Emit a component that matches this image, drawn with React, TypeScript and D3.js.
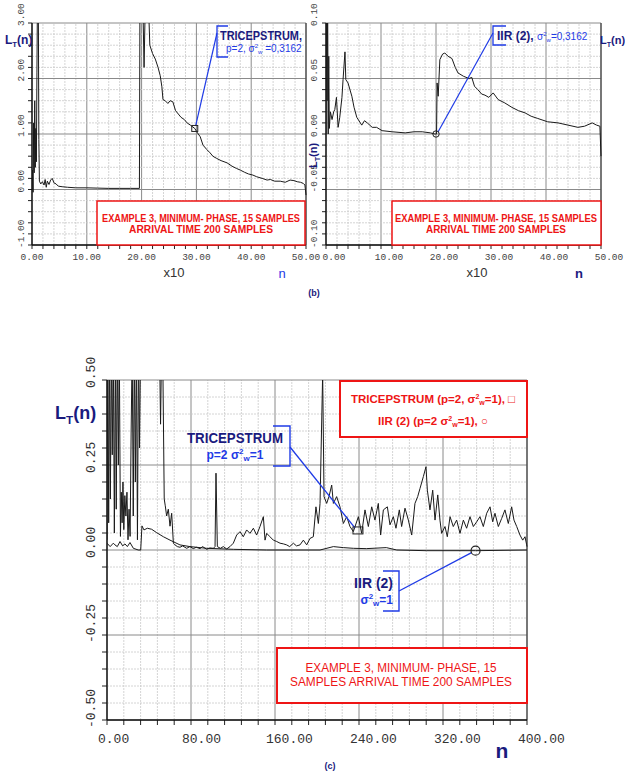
import React from 'react';
import * as d3 from 'd3';

// ---------------- DATA ----------------
// (b) left: TRICEPSTRUM, x in units of x10 samples
const tricepB: [number, number][] = [
  [0, 0], [0.1, 0.35], [0.2, -0.05], [0.3, 1.2], [0.4, 0.3], [0.5, 1.6], [0.6, 0.4], [0.7, 1.1], [0.8, 0.5], [0.9, 2.1],
  [1.0, 3.5], [1.15, 3.5], [1.25, 0.9], [1.35, 0.15], [1.6, 0.1], [1.9, 0.14], [2.2, 0.08], [2.4, 0.18], [2.6, 0.04],
  [2.8, 0.15], [3.1, 0.09], [3.4, 0.17], [3.7, 0.2], [4.0, 0.12], [4.4, 0.1], [4.8, 0.06], [5.5, 0.05], [6.5, 0.04],
  [8, 0.03], [10, 0.03], [12, 0.025], [14, 0.02], [16, 0.02], [18, 0.02], [19.6, 0.02], [19.7, 3.5], [20.2, 3.5],
  [20.45, 2.2], [20.7, 3.5], [21.2, 3.5], [21.5, 2.6], [22, 2.45], [22.5, 2.35], [23, 2.2], [23.4, 2.05], [23.7, 1.85],
  [23.9, 1.62], [24.3, 1.6], [24.8, 1.55], [25.2, 1.6], [25.7, 1.58], [26.2, 1.42], [26.7, 1.36], [27.2, 1.3],
  [27.8, 1.26], [28.3, 1.2], [28.9, 1.16], [29.7, 1.1], [30.2, 1.02], [30.7, 0.95], [31.2, 0.8], [31.9, 0.72],
  [32.5, 0.66], [33.0, 0.6], [33.7, 0.56], [34.5, 0.52], [35.6, 0.48], [36.5, 0.42], [37.3, 0.38], [38, 0.35],
  [38.8, 0.31], [39.5, 0.28], [40.3, 0.26], [41, 0.23], [42, 0.2], [42.9, 0.17], [43.5, 0.18], [44.3, 0.15],
  [45.3, 0.15], [46.2, 0.13], [47.1, 0.17], [47.8, 0.16], [48.4, 0.14], [49, 0.13], [49.5, 0.11], [49.8, 0.08], [50, -0.1],
];

// (b) right: IIR(2)
const iirB: [number, number][] = [
  [0, 0.0], [0.1, 0.12], [0.2, 0.03], [0.3, 0.12], [0.4, 0.0], [0.5, 0.07], [0.6, 0.005], [0.8, 0.02], [1.1, 0.013],
  [1.4, 0.02], [1.6, 0.022], [1.9, 0.033], [2.2, 0.006], [2.5, 0.015], [2.9, 0.033], [3.1, 0.049], [3.45, 0.074],
  [3.6, 0.049], [4.0, 0.046], [4.7, 0.034], [5.1, 0.024], [5.6, 0.015], [6.5, 0.008], [7.0, 0.012], [7.5, 0.01],
  [8.4, 0.006], [9.2, 0.006], [10.2, 0.003], [12, 0.002], [14.4, 0.001], [16, 0.002], [17.5, 0.002], [19.0, 0.001],
  [19.8, 0.0], [20.1, 0.0], [20.2, 0.046], [20.4, 0.034], [20.7, 0.067], [21.2, 0.072], [21.6, 0.073], [22.2, 0.07],
  [22.9, 0.068], [23.5, 0.06], [24.0, 0.055], [25, 0.052], [26, 0.05], [26.5, 0.051], [27.0, 0.043], [27.6, 0.04],
  [28.3, 0.036], [28.9, 0.035], [29.6, 0.033], [30.4, 0.037], [31.3, 0.031], [32.5, 0.028], [33.8, 0.024],
  [35, 0.021], [36.2, 0.019], [37.3, 0.016], [38.5, 0.014], [40.3, 0.011], [42.2, 0.01], [44, 0.008], [45.8, 0.006],
  [47, 0.007], [48.4, 0.01], [49.2, 0.008], [49.8, 0.007], [50, -0.02],
];

// (c) TRICEPSTRUM, p=2, sigma^2_w = 1
const tricepC: [number, number][] = [
  [0, 0.03], [0.8, 0.6], [1.6, 0.08], [2.4, 0.6], [3.2, 0.15], [4.2, 0.6], [5, 0.28], [6, 0.6], [7, 0.05], [8, 0.6],
  [8.8, 0.12], [9.8, 0.6], [10.8, 0.25], [11.7, 0.6], [12.8, 0.04], [13.6, 0.17], [14.4, 0.08], [15.2, 0.2], [16, 0.06],
  [17, 0.16], [18, 0.1], [19, 0.17], [20, 0.03], [21, 0.12], [22, 0.04], [23, 0.35], [24, 0.6], [25, 0.1], [26, 0.6],
  [27, 0.2], [28, 0.6], [29, 0.03], [30, 0.6], [31, 0.3], [32, 0.6], [33, 0.6], [40, 0.6], [50, 0.6], [51, 0.37],
  [52, 0.6], [53, 0.6], [54.5, 0.15], [55.5, 0.13], [56.8, 0.1], [58.4, 0.12], [60, 0.07], [61.6, 0.108], [63.2, 0.02],
  [64.8, 0.015], [67, 0.01], [69.5, 0.008], [72, 0.012], [75.9, 0.005], [79, 0.01], [82.2, 0.004], [85, 0.008],
  [88.6, 0.004], [91, 0.01], [95, 0.002], [98, 0.006], [101.3, 0.005], [102.9, 0.01], [103.8, 0.226], [105.1, 0.01],
  [108, 0.005], [110.8, 0.01], [114, 0.003], [117.1, 0.01], [120.3, 0.02], [123.5, 0.044], [126.7, 0.054],
  [129.8, 0.039], [133, 0.059], [136.2, 0.049], [139.4, 0.064], [142.5, 0.044], [145.7, 0.069], [148.9, 0.098],
  [150.5, 0.029], [152.1, 0.049], [155.2, 0.039], [158.4, 0.029], [161.6, 0.025], [164.8, 0.02], [168, 0.018],
  [171.1, 0.015], [174, 0.01], [177.5, 0.02], [180.5, 0.012], [183.8, 0.015], [187, 0.029], [190.2, 0.015],
  [193.3, 0.034], [196.5, 0.039], [199, 0.127], [201.3, 0.078], [202.9, 0.137], [205.4, 0.52], [206.7, 0.157],
  [209.2, 0.137], [211.4, 0.157], [214, 0.191], [215.6, 0.137], [218.7, 0.157], [221.9, 0.127], [225.1, 0.078],
  [228.3, 0.098], [231.4, 0.069], [234.6, 0.054], [239.4, 0.098], [242.5, 0.049], [245.7, 0.118], [248.9, 0.069],
  [252.1, 0.127], [255.2, 0.088], [258.4, 0.137], [260.6, 0.044], [263.2, 0.118], [267, 0.127], [269.5, 0.074],
  [272.7, 0.098], [275.2, 0.064], [278.4, 0.118], [280.6, 0.069], [283.8, 0.123], [287, 0.088], [290.2, 0.044],
  [293.3, 0.137], [295.9, 0.157], [298.1, 0.181], [301.3, 0.216], [303.8, 0.245], [305.1, 0.176], [307.6, 0.118],
  [310.2, 0.176], [312.4, 0.088], [315, 0.162], [317.1, 0.088], [318.7, 0.049], [321.9, 0.069], [324.1, 0.039],
  [326.7, 0.098], [329.8, 0.069], [333, 0.088], [336.2, 0.049], [339.4, 0.088], [342.5, 0.064], [345.7, 0.098],
  [348.9, 0.069], [352.1, 0.083], [355.2, 0.098], [358.4, 0.069], [361.6, 0.108], [364.8, 0.127], [367.3, 0.083],
  [369.5, 0.108], [372.7, 0.069], [375.9, 0.093], [379, 0.118], [382.2, 0.078], [385.4, 0.127], [387.6, 0.088],
  [390.2, 0.069], [393.3, 0.044], [395.9, 0.029], [398.1, 0.039], [399.7, 0.015], [400, 0.01],
];

// (c) IIR(2), p=2, sigma^2_w = 1
const iirC: [number, number][] = [
  [0, 0.02], [3, 0.01], [6.0, 0.02], [7.6, 0.015], [9.8, 0.01], [12.4, 0.025], [14.9, 0.012], [17.1, 0.018],
  [19.4, 0.01], [21.9, 0.022], [25.1, 0.005], [29.8, 0.0], [32.1, 0.0], [33.3, 0.071], [35.2, 0.059], [38.4, 0.064],
  [42.5, 0.061], [47.3, 0.051], [53.7, 0.039], [60, 0.029], [64.8, 0.022], [69.5, 0.015], [79, 0.01], [95, 0.005],
  [120.3, 0.002], [152, 0.0], [183.8, 0.0], [202.9, 0.0], [215.6, 0.01], [225, 0.007], [234.6, 0.005], [247, 0.004],
  [266, 0.007], [276, 0.0], [304, -0.002], [351, -0.002], [400, 0.0],
];

// ticks / labels
const xTicksB = [0, 10, 20, 30, 40, 50];
const yTicksBL = [-1, 0, 1, 2, 3];
const yTicksBR = [-0.1, -0.05, 0, 0.05, 0.1];
const xTicksC = [0, 80, 160, 240, 320, 400];
const yTicksC = [-0.5, -0.25, 0, 0.25, 0.5];
const exampleLines = ['EXAMPLE 3, MINIMUM- PHASE, 15 SAMPLES', 'ARRIVAL TIME 200 SAMPLES'];
const exampleLinesC = ['EXAMPLE 3, MINIMUM- PHASE, 15', 'SAMPLES ARRIVAL TIME 200 SAMPLES'];
const markerB = { tricep: [29.7, 1.1], iir: [20.0, 0.0] };
const markerC = { tricep: [239, 0.059], iir: [351, -0.002] };

// ---------------- STYLE ----------------
const NAVY = '#1a1a7e';
const BLUE = '#1f3be6';
const RED = '#ee1515';
const MONO = '"Liberation Mono", "DejaVu Sans Mono", monospace';
const SANS = '"Liberation Sans", Arial, sans-serif';

const fmt = d3.formatLocale({ decimal: '.', thousands: ',', grouping: [3], currency: ['', ''], minus: '-' }).format('.2f');

type Sc = d3.ScaleLinear<number, number>;

function Grid({ xs, ys, xMinor, xMajor, yMinor, yMajor, tickLen }: { xs: Sc; ys: Sc; xMinor: number; xMajor: number; yMinor: number; yMajor: number; tickLen: number }) {
  const [x0, x1] = xs.domain();
  const [y0, y1] = ys.domain();
  const xv = d3.range(x0, x1 + xMinor / 2, xMinor);
  const yv = d3.range(y0, y1 + yMinor / 2, yMinor);
  const isMajor = (v: number, m: number) => Math.abs(v / m - Math.round(v / m)) < 1e-6;
  return (
    <g>
      {xv.map((v, i) => (
        <line key={'gx' + i} x1={xs(v)} x2={xs(v)} y1={ys(y0)} y2={ys(y1)}
          stroke={isMajor(v, xMajor) ? '#8a8a8a' : '#c9c9c9'} strokeWidth={isMajor(v, xMajor) ? 1 : 0.8}
          strokeDasharray={isMajor(v, xMajor) ? undefined : '2,1'} />
      ))}
      {yv.map((v, i) => (
        <line key={'gy' + i} x1={xs(x0)} x2={xs(x1)} y1={ys(v)} y2={ys(v)}
          stroke={isMajor(v, yMajor) ? '#8a8a8a' : '#c9c9c9'} strokeWidth={isMajor(v, yMajor) ? 1 : 0.8}
          strokeDasharray={isMajor(v, yMajor) ? undefined : '2,1'} />
      ))}
      {yv.map((v, i) => (
        <line key={'ty' + i} x1={xs(x0) - tickLen} x2={xs(x0)} y1={ys(v)} y2={ys(v)} stroke="#222" strokeWidth={1} />
      ))}
      {xv.map((v, i) => (
        <line key={'tx' + i} x1={xs(v)} x2={xs(v)} y1={ys(y0)} y2={ys(y0) + tickLen} stroke="#222" strokeWidth={1} />
      ))}
      <line x1={xs(x1)} x2={xs(x1)} y1={ys(y0)} y2={ys(y1)} stroke="#444" strokeWidth={1.2} />
      <line x1={xs(x0)} x2={xs(x0)} y1={ys(y0)} y2={ys(y1)} stroke="#111" strokeWidth={1.4} />
      <line x1={xs(x0)} x2={xs(x1)} y1={ys(y0)} y2={ys(y0)} stroke="#111" strokeWidth={1.4} />
    </g>
  );
}

function Series({ data, xs, ys, clip }: { data: [number, number][]; xs: Sc; ys: Sc; clip: string }) {
  const line = d3.line<[number, number]>().x(d => xs(d[0])).y(d => ys(d[1]));
  return <path d={line(data) || ''} fill="none" stroke="#1a1a1a" strokeWidth={1} clipPath={`url(#${clip})`} />;
}

function LT({ x, y, size, rotate }: { x: number; y: number; size: number; rotate?: boolean }) {
  return (
    <text x={x} y={y} fontFamily={SANS} fontWeight="bold" fontSize={size} fill={NAVY}
      transform={rotate ? `rotate(-90 ${x} ${y})` : undefined}>
      L<tspan fontSize={size * 0.65} dy={size * 0.25}>T</tspan><tspan dy={-size * 0.25}>(n)</tspan>
    </text>
  );
}

export default function App() {
  // panel (b) left
  const xsL = d3.scaleLinear().domain([0, 50]).range([32, 306]);
  const ysL = d3.scaleLinear().domain([-1, 3]).range([245, 23]);
  // panel (b) right
  const xsR = d3.scaleLinear().domain([0, 50]).range([326, 601]);
  const ysR = d3.scaleLinear().domain([-0.1, 0.1]).range([245, 23]);
  // panel (c)
  const xsC = d3.scaleLinear().domain([0, 400]).range([107, 527]);
  const ysC = d3.scaleLinear().domain([-0.5, 0.5]).range([720, 380]);

  const clipRect = (id: string, xs: Sc, ys: Sc) => (
    <clipPath id={id}>
      <rect x={xs.range()[0]} y={ys.range()[1]} width={xs.range()[1] - xs.range()[0] + 1} height={ys.range()[0] - ys.range()[1]} />
    </clipPath>
  );

  const redBox = (x: number, y: number, w: number, h: number, sw: number) => (
    <rect x={x} y={y} width={w} height={h} fill="#fff" stroke={RED} strokeWidth={sw} />
  );

  const sqL = [xsL(markerB.tricep[0]), ysL(markerB.tricep[1])];
  const ciR = [xsR(markerB.iir[0]), ysR(markerB.iir[1])];
  const sqC = [xsC(markerC.tricep[0]), ysC(markerC.tricep[1])];
  const ciC = [xsC(markerC.iir[0]), ysC(markerC.iir[1])];

  return (
    <svg width={625} height={776} style={{ position: 'absolute', left: 0, top: 0, background: '#fff' }}>
      <defs>
        {clipRect('clipL', xsL, ysL)}
        {clipRect('clipR', xsR, ysR)}
        {clipRect('clipC', xsC, ysC)}
      </defs>
      <rect x={0} y={0} width={625} height={776} fill="#fff" />

      {/* ---------- panel (b) left ---------- */}
      <Grid xs={xsL} ys={ysL} xMinor={2} xMajor={10} yMinor={0.2} yMajor={1} tickLen={4} />
      {redBox(97, 201, 208, 44, 1.5)}
      {exampleLines.map((t, i) => (
        <text key={'el' + i} x={201} y={222 + i * 11} textAnchor="middle" fontFamily={SANS} fontWeight="bold" fontSize={10.5}
          fill={RED} textLength={i === 0 ? 198 : 144} lengthAdjust="spacingAndGlyphs">{t}</text>
      ))}
      <Series data={tricepB} xs={xsL} ys={ysL} clip="clipL" />
      {xTicksB.map(v => (
        <text key={'xl' + v} x={xsL(v)} y={260} textAnchor="middle" fontFamily={MONO} fontSize={9.5} fill="#444">{fmt(v)}</text>
      ))}
      {yTicksBL.map(v => (
        <text key={'yl' + v} x={24} y={ysL(v) + 3} fontFamily={MONO} fontSize={9.5} fill="#444"
          transform={`rotate(-90 24 ${ysL(v) + 3})`}>{fmt(v)}</text>
      ))}
      <LT x={5} y={44} size={12} />
      <text x={174} y={277} textAnchor="middle" fontFamily={SANS} fontSize={13} fill="#333">x10</text>
      <text x={282} y={278} textAnchor="middle" fontFamily={SANS} fontSize={13} fill={BLUE}>n</text>

      {/* annotation tricepstrum (b) */}
      <path d="M228,26 L217,26 L217,57 L228,57" fill="none" stroke={BLUE} strokeWidth={1.3} />
      <line x1={217} y1={33} x2={sqL[0] + 1} y2={sqL[1] - 3} stroke={BLUE} strokeWidth={1.2} />
      <rect x={sqL[0] - 3} y={sqL[1] - 3} width={6} height={6} fill="none" stroke="#222" strokeWidth={1} />
      <text x={220} y={40} fontFamily={SANS} fontWeight="bold" fontSize={12} fill={NAVY} textLength={82} lengthAdjust="spacingAndGlyphs">TRICEPSTRUM,</text>
      <text x={226} y={52} fontFamily={SANS} fontSize={10} fill={BLUE}>
        p=2, σ<tspan fontSize={6} dy={-4}>2</tspan><tspan fontSize={6} dy={6}>w</tspan><tspan dy={-2}> =0,3162</tspan>
      </text>

      {/* ---------- panel (b) right ---------- */}
      <Grid xs={xsR} ys={ysR} xMinor={2} xMajor={10} yMinor={0.01} yMajor={0.05} tickLen={4} />
      {redBox(392, 201, 209, 44, 1.5)}
      {exampleLines.map((t, i) => (
        <text key={'er' + i} x={496} y={222 + i * 11} textAnchor="middle" fontFamily={SANS} fontWeight="bold" fontSize={10.5}
          fill={RED} textLength={i === 0 ? 202 : 140} lengthAdjust="spacingAndGlyphs">{t}</text>
      ))}
      <Series data={iirB} xs={xsR} ys={ysR} clip="clipR" />
      {xTicksB.map(v => (
        <text key={'xr' + v} x={xsR(v) + 8} y={260} textAnchor="middle" fontFamily={MONO} fontSize={9.5} fill="#444">{fmt(v)}</text>
      ))}
      {yTicksBR.map(v => (
        <text key={'yr' + v} x={317} y={ysR(v) + 3} fontFamily={MONO} fontSize={9.5} fill="#444"
          transform={`rotate(-90 317 ${ysR(v) + 3})`}>{fmt(v)}</text>
      ))}
      <LT x={317} y={168} size={11} rotate />
      <LT x={600} y={44} size={11} />
      <text x={477} y={277} textAnchor="middle" fontFamily={SANS} fontSize={13} fill="#333">x10</text>
      <text x={579} y={278} textAnchor="middle" fontFamily={SANS} fontWeight="bold" fontSize={13} fill={NAVY}>n</text>
      <text x={314} y={296} textAnchor="middle" fontFamily={SANS} fontWeight="bold" fontSize={9} fill={NAVY}>(b)</text>

      {/* annotation IIR (b) */}
      <path d="M506,26 L493,26 L493,45 L506,45" fill="none" stroke={BLUE} strokeWidth={1.3} />
      <line x1={493} y1={33} x2={ciR[0] + 2} y2={ciR[1] - 2} stroke={BLUE} strokeWidth={1.2} />
      <circle cx={ciR[0]} cy={ciR[1]} r={3.2} fill="none" stroke="#222" strokeWidth={1} />
      <text x={497} y={40} fontFamily={SANS} fontSize={12} fill={NAVY}>
        <tspan fontWeight="bold">IIR (2), </tspan>
        <tspan fill={BLUE} fontSize={10}>σ<tspan fontSize={6} dy={-4}>2</tspan><tspan fontSize={6} dy={6}>w</tspan><tspan dy={-2}>=0,3162</tspan></tspan>
      </text>

      {/* ---------- panel (c) ---------- */}
      <Grid xs={xsC} ys={ysC} xMinor={16} xMajor={80} yMinor={0.05} yMajor={0.25} tickLen={5} />
      {redBox(340, 381, 187, 56, 2)}
      {redBox(277, 648, 250, 55, 2)}
      <Series data={tricepC} xs={xsC} ys={ysC} clip="clipC" />
      <Series data={iirC} xs={xsC} ys={ysC} clip="clipC" />
      {xTicksC.map(v => (
        <text key={'xc' + v} x={xsC(v) - 9} y={743} fontFamily={MONO} fontSize={13} fill="#333">{fmt(v)}</text>
      ))}
      {yTicksC.map(v => (
        <text key={'yc' + v} x={95} y={ysC(v) + 8} fontFamily={MONO} fontSize={13} fill="#333"
          transform={`rotate(-90 95 ${ysC(v) + 8})`}>{fmt(v)}</text>
      ))}
      <LT x={55} y={419} size={18} />
      <text x={502} y={758} textAnchor="middle" fontFamily={SANS} fontWeight="bold" fontSize={21} fill={NAVY}>n</text>
      <text x={330} y={769} textAnchor="middle" fontFamily={SANS} fontWeight="bold" fontSize={9} fill={NAVY}>(c)</text>

      {exampleLinesC.map((t, i) => (
        <text key={'ec' + i} x={401} y={672 + i * 14} textAnchor="middle" fontFamily={SANS} fontSize={12.5}
          fill={RED} textLength={i === 0 ? 191 : 222} lengthAdjust="spacingAndGlyphs">{t}</text>
      ))}

      {/* legend (c) */}
      <text x={433} y={403} textAnchor="middle" fontFamily={SANS} fontWeight="bold" fontSize={11.5} fill={RED}>
        TRICEPSTRUM (p=2, σ<tspan fontSize={7} dy={-4}>2</tspan><tspan fontSize={7} dy={6}>w</tspan><tspan dy={-2}>=1), □</tspan>
      </text>
      <text x={433} y={425} textAnchor="middle" fontFamily={SANS} fontWeight="bold" fontSize={11.5} fill={RED}>
        IIR (2) (p=2 σ<tspan fontSize={7} dy={-4}>2</tspan><tspan fontSize={7} dy={6}>w</tspan><tspan dy={-2}>=1), ○</tspan>
      </text>

      {/* annotation tricepstrum (c) */}
      <path d="M273,426 L290,426 L290,466 L273,466" fill="none" stroke={BLUE} strokeWidth={1.4} />
      <line x1={290} y1={447} x2={sqC[0] - 3} y2={sqC[1] - 2} stroke={BLUE} strokeWidth={1.3} />
      <rect x={sqC[0] - 5} y={sqC[1] - 3} width={10} height={7} fill="none" stroke="#222" strokeWidth={1} />
      <text x={235} y={443} textAnchor="middle" fontFamily={SANS} fontWeight="bold" fontSize={14} fill={NAVY}
        textLength={96} lengthAdjust="spacingAndGlyphs">TRICEPSTRUM</text>
      <text x={235} y={459} textAnchor="middle" fontFamily={SANS} fontWeight="bold" fontSize={12} fill={BLUE}>
        p=2 σ<tspan fontSize={8} dy={-5}>2</tspan><tspan fontSize={8} dy={7}>w</tspan><tspan dy={-2}>=1</tspan>
      </text>

      {/* annotation IIR (c) */}
      <path d="M383,571 L399,571 L399,611 L383,611" fill="none" stroke={BLUE} strokeWidth={1.4} />
      <line x1={399} y1={591} x2={ciC[0] - 4} y2={ciC[1] + 2} stroke={BLUE} strokeWidth={1.3} />
      <circle cx={ciC[0]} cy={ciC[1]} r={4.5} fill="none" stroke="#222" strokeWidth={1.2} />
      <text x={393} y={588} textAnchor="end" fontFamily={SANS} fontWeight="bold" fontSize={14} fill={NAVY}>IIR (2)</text>
      <text x={393} y={604} textAnchor="end" fontFamily={SANS} fontWeight="bold" fontSize={12} fill={BLUE}>
        σ<tspan fontSize={8} dy={-5}>2</tspan><tspan fontSize={8} dy={7}>w</tspan><tspan dy={-2}>=1</tspan>
      </text>
    </svg>
  );
}
